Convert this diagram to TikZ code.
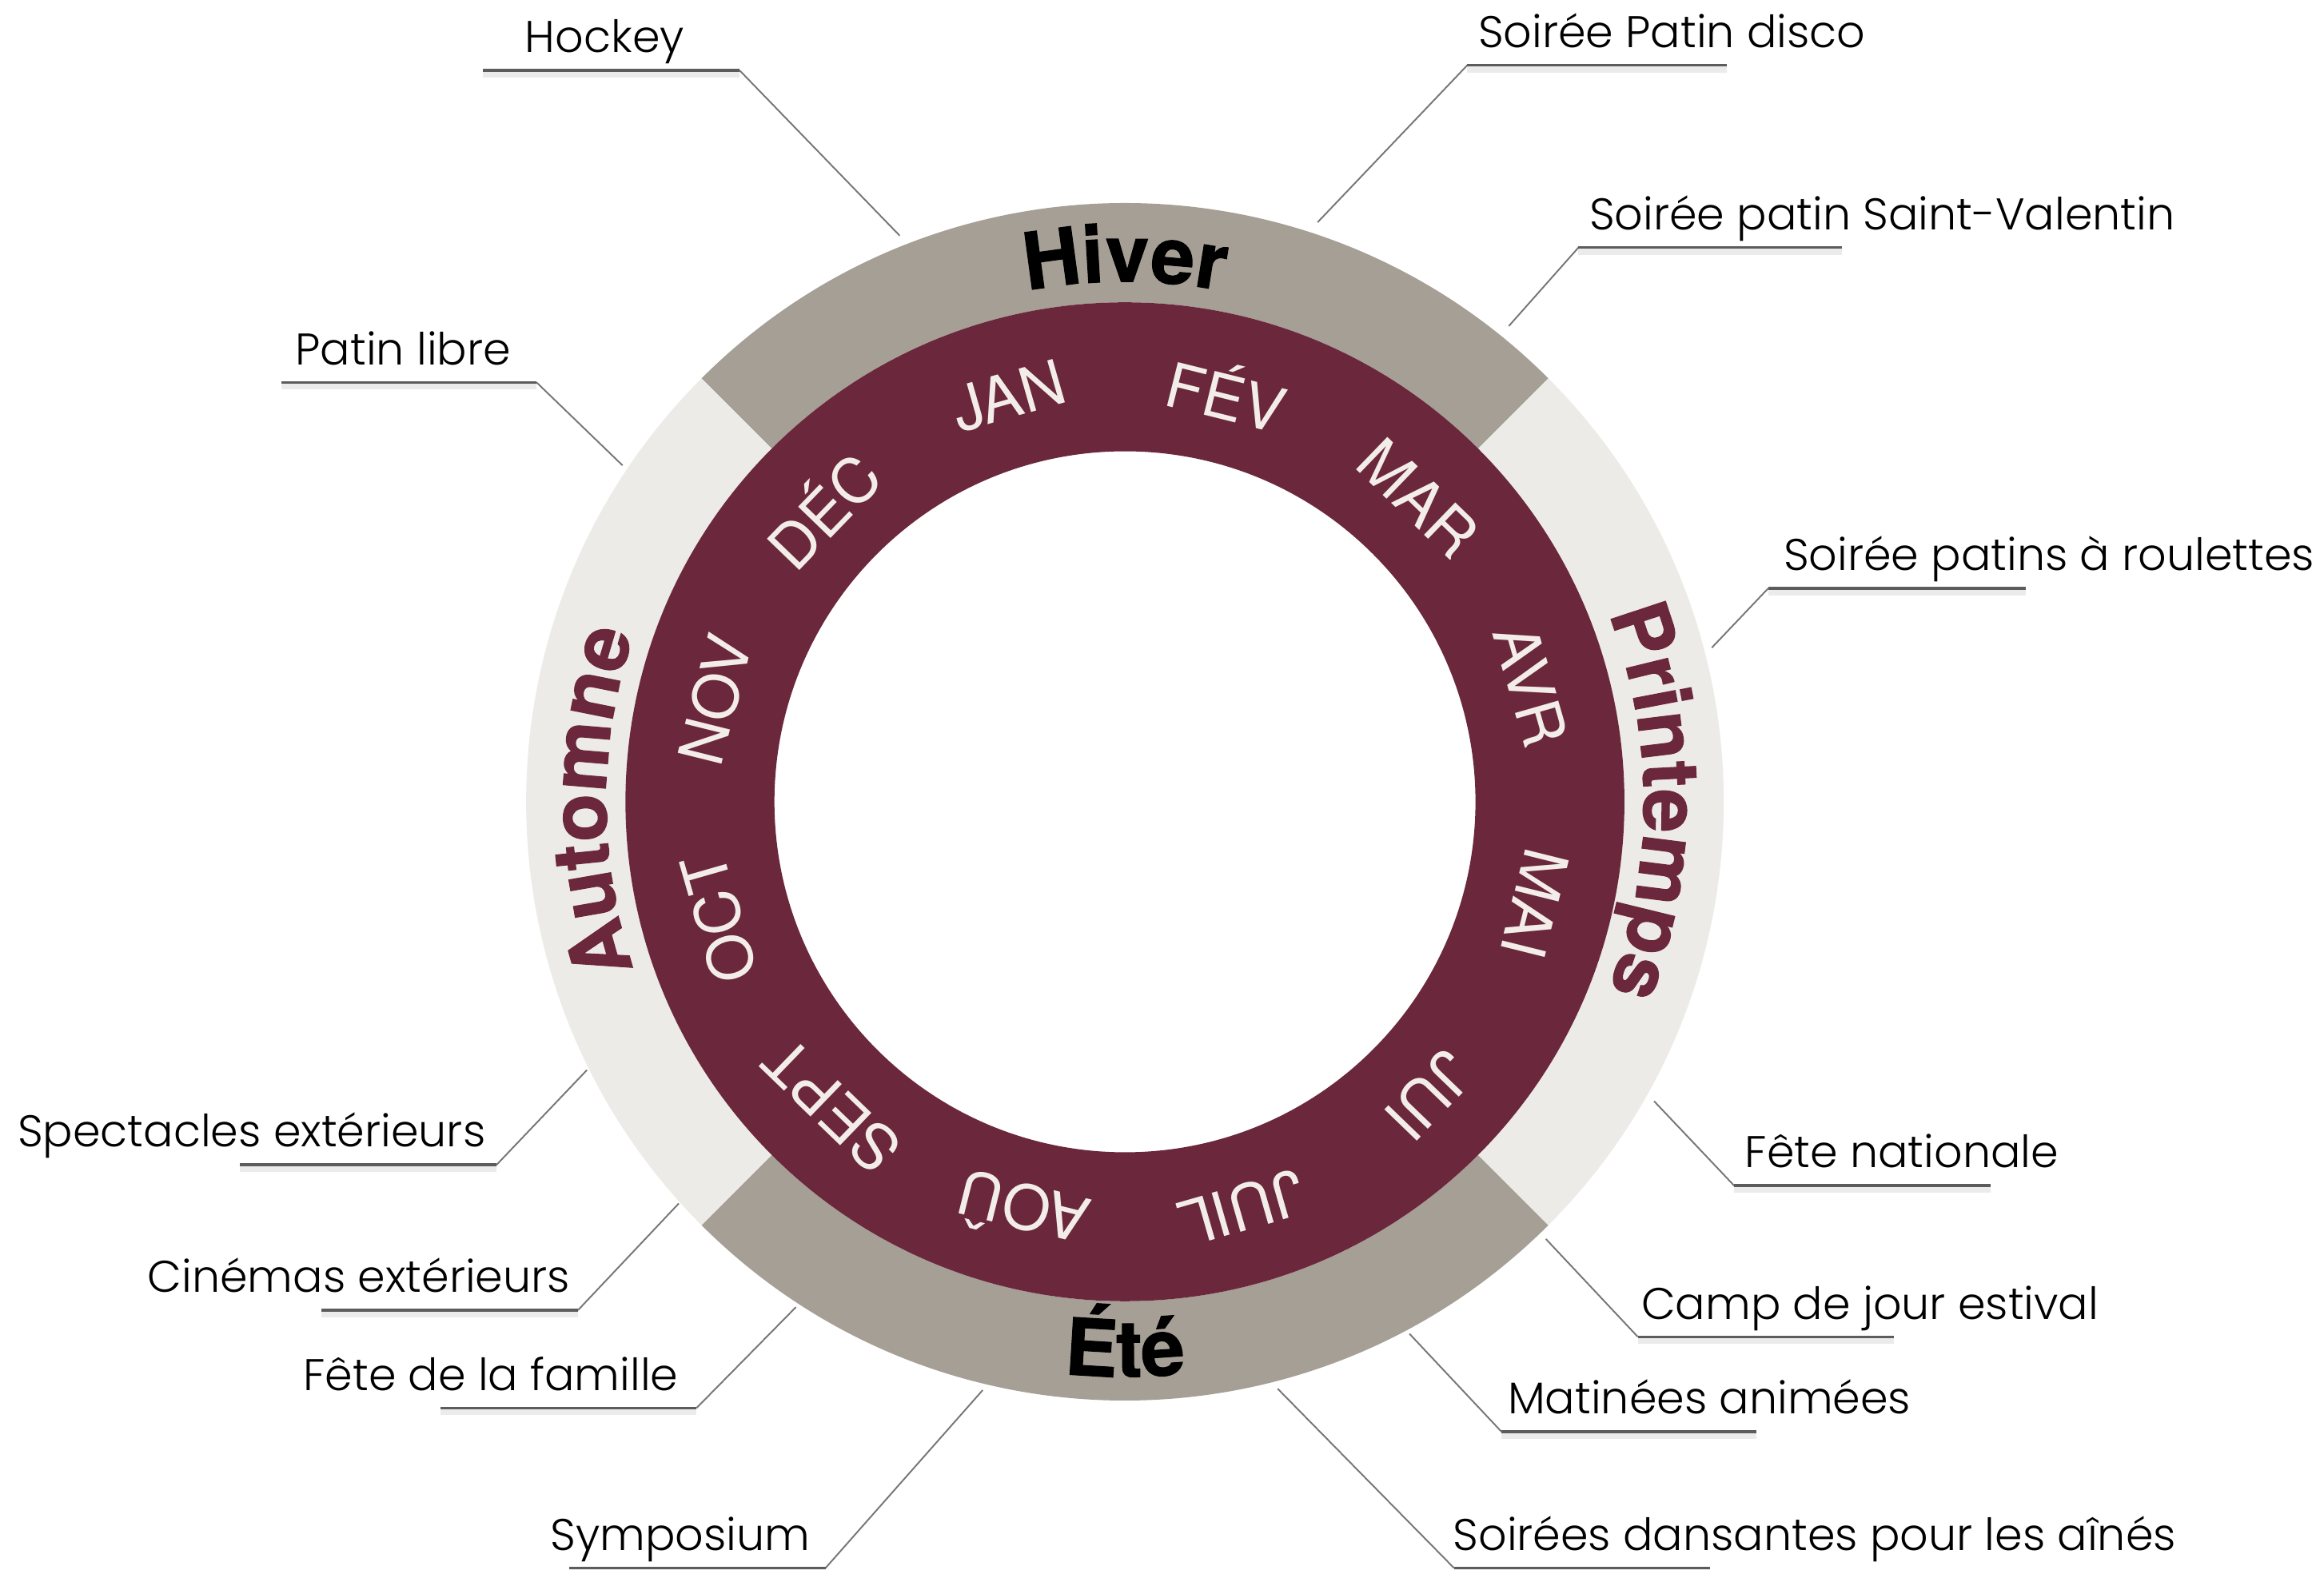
\documentclass[tikz,border=0pt]{standalone}
\usepackage{fontspec}
\setmainfont{TeX Gyre Heros}
\newfontfamily\callfont{Poppins Light}
\newfontfamily\seasonfont{TeX Gyre Heros}[BoldFeatures={FakeBold=1.2}]
\usetikzlibrary{calc,decorations.text}
\definecolor{ringred}{HTML}{6B273C}
\definecolor{darkgr}{HTML}{A59F95}
\definecolor{lightgr}{HTML}{ECEBE7}
\definecolor{monthtxt}{HTML}{F2EDE8}
\definecolor{leadgr}{HTML}{767676}
\definecolor{ulgr}{HTML}{5C5C5C}
\begin{document}
\begin{tikzpicture}[x=0.01854cm,y=0.01854cm,
  month/.style={text=monthtxt,font=\fontsize{22}{22}\selectfont,inner sep=0pt},
  call/.style={font=\callfont\fontsize{15.8}{16}\selectfont,inner sep=0pt,text=black},
  lead/.style={draw=leadgr,line width=0.55pt},
  uline/.style={draw=ulgr,line width=1pt},
  ushadow/.style={draw=black!8,line width=3pt}]
\useasboundingbox (-759,541) rectangle (809,-518);
\fill[white] (-759,541) rectangle (809,-518);
% season sectors
\fill[darkgr] (45:404) arc[start angle=45,end angle=135,radius=404] -- (135:337) arc[start angle=135,end angle=45,radius=337] -- cycle;
\fill[darkgr] (225:404) arc[start angle=225,end angle=315,radius=404] -- (315:337) arc[start angle=315,end angle=225,radius=337] -- cycle;
\fill[lightgr] (-45:404) arc[start angle=-45,end angle=45,radius=404] -- (45:337) arc[start angle=45,end angle=-45,radius=337] -- cycle;
\fill[lightgr] (135:404) arc[start angle=135,end angle=225,radius=404] -- (225:337) arc[start angle=225,end angle=135,radius=337] -- cycle;
% month ring
\fill[ringred,even odd rule] (0,0) circle[radius=337] (0,0) circle[radius=236.5];
% months
\foreach \m [count=\i from 0, evaluate=\i as \a using 106-30*\i] in {JAN,FÉV,MAR,AVR,MAI,JUI,JUIL,AOÛ,SEPT,OCT,NOV,DÉC}
  \node[month,rotate=\a-90] (m\i) at (\a:285) {\m};
% seasons (text along arcs)
\path[decorate,decoration={text along path,text align=center,text color=black,
  text={|\seasonfont\bfseries\fontsize{28}{28}\selectfont|Hiver}}]
  (125:351) arc[start angle=125,end angle=55,radius=351];
\path[decorate,decoration={text along path,text align=center,text color=ringred,
  text={|\seasonfont\bfseries\fontsize{28}{28}\selectfont|Printemps}}]
  (40:350) arc[start angle=40,end angle=-40,radius=350];
\path[decorate,decoration={text along path,text align=center,text color=black,
  text={|\seasonfont\bfseries\fontsize{28}{28}\selectfont|Été}}]
  (240:388) arc[start angle=240,end angle=300,radius=388];
\path[decorate,decoration={text along path,text align=center,text color=ringred,
  text={|\seasonfont\bfseries\fontsize{28}{28}\selectfont|Automne}}]
  (220:350) arc[start angle=220,end angle=140,radius=350];
% callouts: P = point at ring, K = knee, E = end of underline
\newcommand\callout[8]{%
  \coordinate (#1P) at (#2);
  \coordinate (#1K) at (#3);
  \coordinate (#1E) at (#4);
  \draw[ushadow] ($(#1K)+(0,-2)$) -- ($(#1E)+(0,-2)$);
  \draw[lead] (#1P) -- (#1K);
  \draw[uline] (#1K) -- (#1E);
  \node[call,anchor=#6] (#1T) at (#5) {#7};
}
\callout{hockey}{-152,382}{-260,493.5}{-433,493.5}{-405,505.5}{base west}{Hockey}{}
\callout{disco}{130,391}{231,497}{406,497}{238,509}{base west}{Soirée Patin disco}{}
\callout{valentin}{259,321}{306,374}{484,374}{313,386}{base west}{Soirée patin Saint-Valentin}{}
\callout{libre}{-339,227}{-397,283}{-569,283}{-560,295}{base west}{Patin libre}{}
\callout{roul}{396,104}{434,144}{608,144}{444,156}{base west}{Soirée patins à roulettes}{}
\callout{spect}{-363,-181}{-424,-245}{-597,-245}{-431,-233}{base east}{Spectacles extérieurs}{}
\callout{natio}{357,-202}{411,-259}{584,-259}{418,-247}{base west}{Fête nationale}{}
\callout{cine}{-301,-271}{-369,-343}{-542,-343}{-374,-331}{base east}{Cinémas extérieurs}{}
\callout{camp}{284,-295}{346,-361}{519,-361}{348,-349}{base west}{Camp de jour estival}{}
\callout{famille}{-222,-341}{-289,-409}{-462,-409}{-301,-397}{base east}{Fête de la famille}{}
\callout{matin}{192,-359}{254,-425}{426,-425}{258,-413}{base west}{Matinées animées}{}
\callout{sympo}{-96,-397}{-202,-517}{-375,-517}{-212,-505}{base east}{Symposium}{}
\callout{danse}{103,-396}{222,-517}{395,-517}{221,-505}{base west}{Soirées dansantes pour les aînés}{}
\end{tikzpicture}
\end{document}
